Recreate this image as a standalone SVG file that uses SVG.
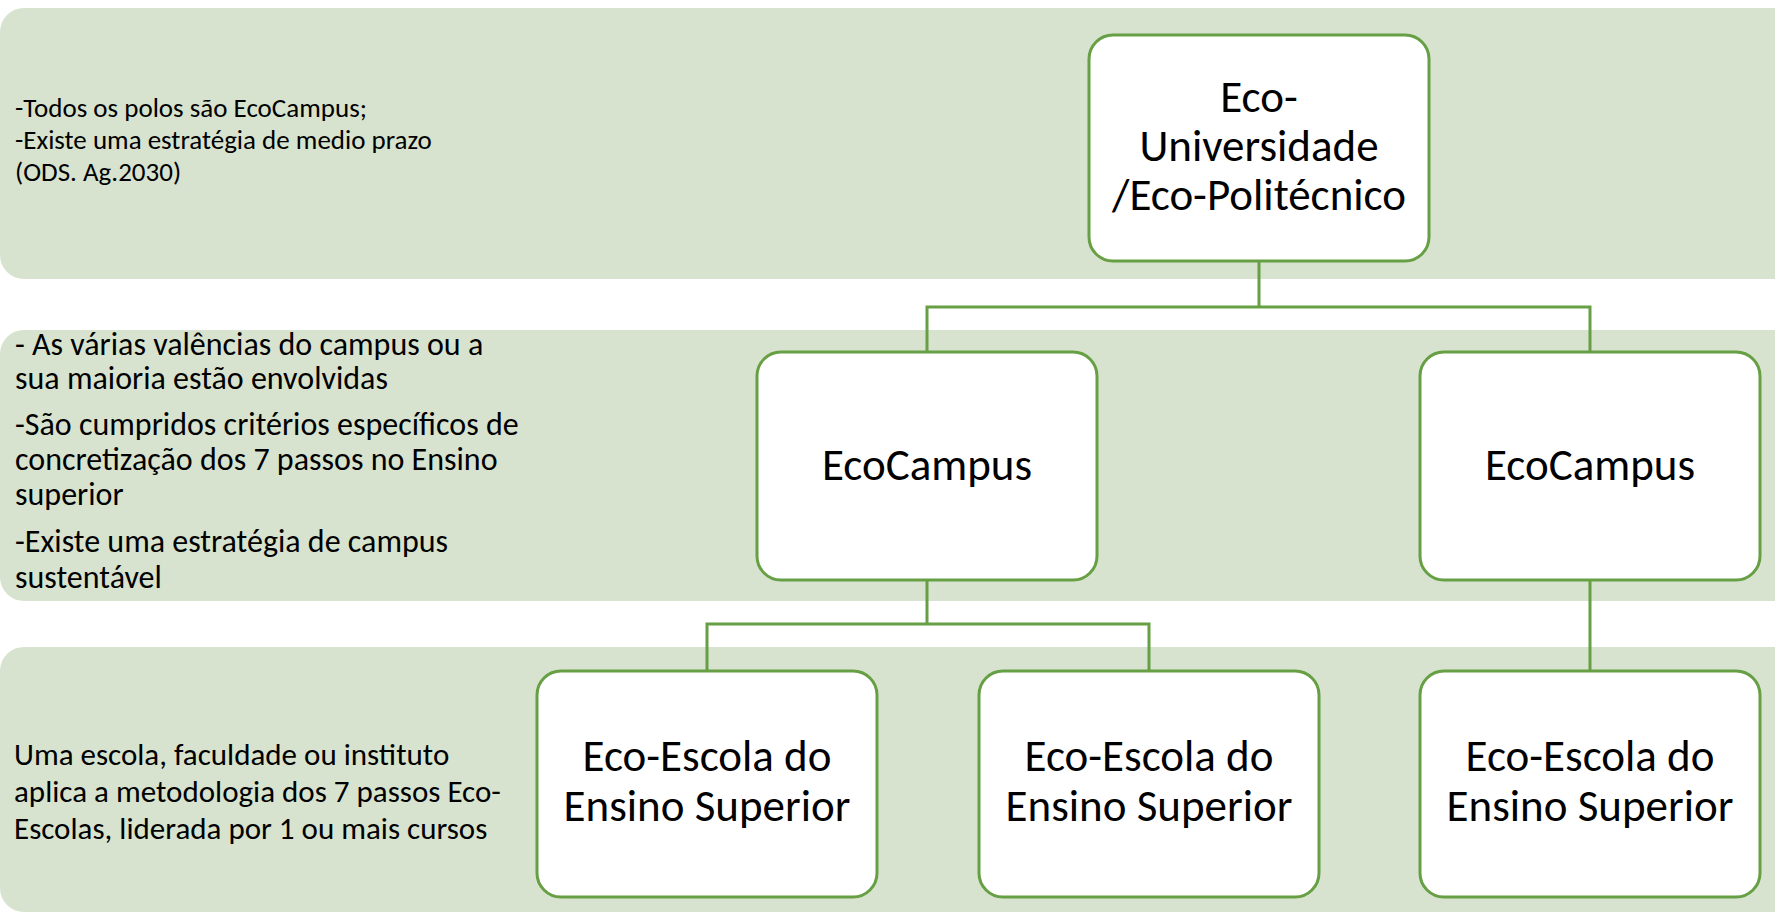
<svg xmlns="http://www.w3.org/2000/svg" width="1775" height="914" viewBox="0 0 1775 914">
<style>
.band{fill:#D7E3CE}
.box{fill:#FFFFFF;stroke:#67A044;stroke-width:3}
.conn{fill:none;stroke:#67A044;stroke-width:3}
.lt{font-family:Carlito,Lato,"Liberation Sans",sans-serif;font-size:27px;fill:#000}
.lt2{font-family:Carlito,Lato,"Liberation Sans",sans-serif;font-size:32px;fill:#000}
.lt3{font-family:Carlito,Lato,"Liberation Sans",sans-serif;font-size:31px;fill:#000}
.nt{font-family:Carlito,Lato,"Liberation Sans",sans-serif;font-size:45px;fill:#000;text-anchor:middle}
</style>
<rect width="1775" height="914" fill="#FFFFFF"/>
<g id="band1">
<rect class="band" x="0" y="8" width="1800" height="271" rx="24"/>
<text class="lt" x="15" y="117">-Todos os polos são EcoCampus;</text>
<text class="lt" x="15" y="149">-Existe uma estratégia de medio prazo</text>
<text class="lt" x="15" y="181">(ODS. Ag.2030)</text>
</g>
<g id="band2">
<rect class="band" x="0" y="330" width="1800" height="271" rx="24"/>
<text class="lt2" x="15" y="355">- As várias valências do campus ou a</text>
<text class="lt2" x="15" y="389">sua maioria estão envolvidas</text>
<text class="lt2" x="15" y="435">-São cumpridos critérios específicos de</text>
<text class="lt2" x="15" y="470">concretização dos 7 passos no Ensino</text>
<text class="lt2" x="15" y="505">superior</text>
<text class="lt2" x="15" y="552">-Existe uma estratégia de campus</text>
<text class="lt2" x="15" y="588">sustentável</text>
</g>
<g id="band3">
<rect class="band" x="0" y="647" width="1800" height="265" rx="24"/>
<text class="lt3" x="14" y="765">Uma escola, faculdade ou instituto</text>
<text class="lt3" x="14" y="802">aplica a metodologia dos 7 passos Eco-</text>
<text class="lt3" x="14" y="839">Escolas, liderada por 1 ou mais cursos</text>
</g>
<g id="connectors">
<path class="conn" d="M1259 261V307M927 352V307H1590V352"/>
<path class="conn" d="M927 580V624M707 671V624H1149V671"/>
<path class="conn" d="M1590 580V671"/>
</g>
<g id="eco-universidade">
<rect class="box" x="1089" y="35" width="340" height="226" rx="24"/>
<text class="nt" x="1259" y="112">Eco-</text>
<text class="nt" x="1259" y="161">Universidade</text>
<text class="nt" x="1259" y="210">/Eco-Politécnico</text>
</g>
<g id="ecocampus-1">
<rect class="box" x="757" y="352" width="340" height="228" rx="24"/>
<text class="nt" x="927" y="480">EcoCampus</text>
</g>
<g id="ecocampus-2">
<rect class="box" x="1420" y="352" width="340" height="228" rx="24"/>
<text class="nt" x="1590" y="480">EcoCampus</text>
</g>
<g id="eco-escola-1">
<rect class="box" x="537" y="671" width="340" height="226" rx="24"/>
<text class="nt" x="707" y="771">Eco-Escola do</text>
<text class="nt" x="707" y="821">Ensino Superior</text>
</g>
<g id="eco-escola-2">
<rect class="box" x="979" y="671" width="340" height="226" rx="24"/>
<text class="nt" x="1149" y="771">Eco-Escola do</text>
<text class="nt" x="1149" y="821">Ensino Superior</text>
</g>
<g id="eco-escola-3">
<rect class="box" x="1420" y="671" width="340" height="226" rx="24"/>
<text class="nt" x="1590" y="771">Eco-Escola do</text>
<text class="nt" x="1590" y="821">Ensino Superior</text>
</g>
</svg>
